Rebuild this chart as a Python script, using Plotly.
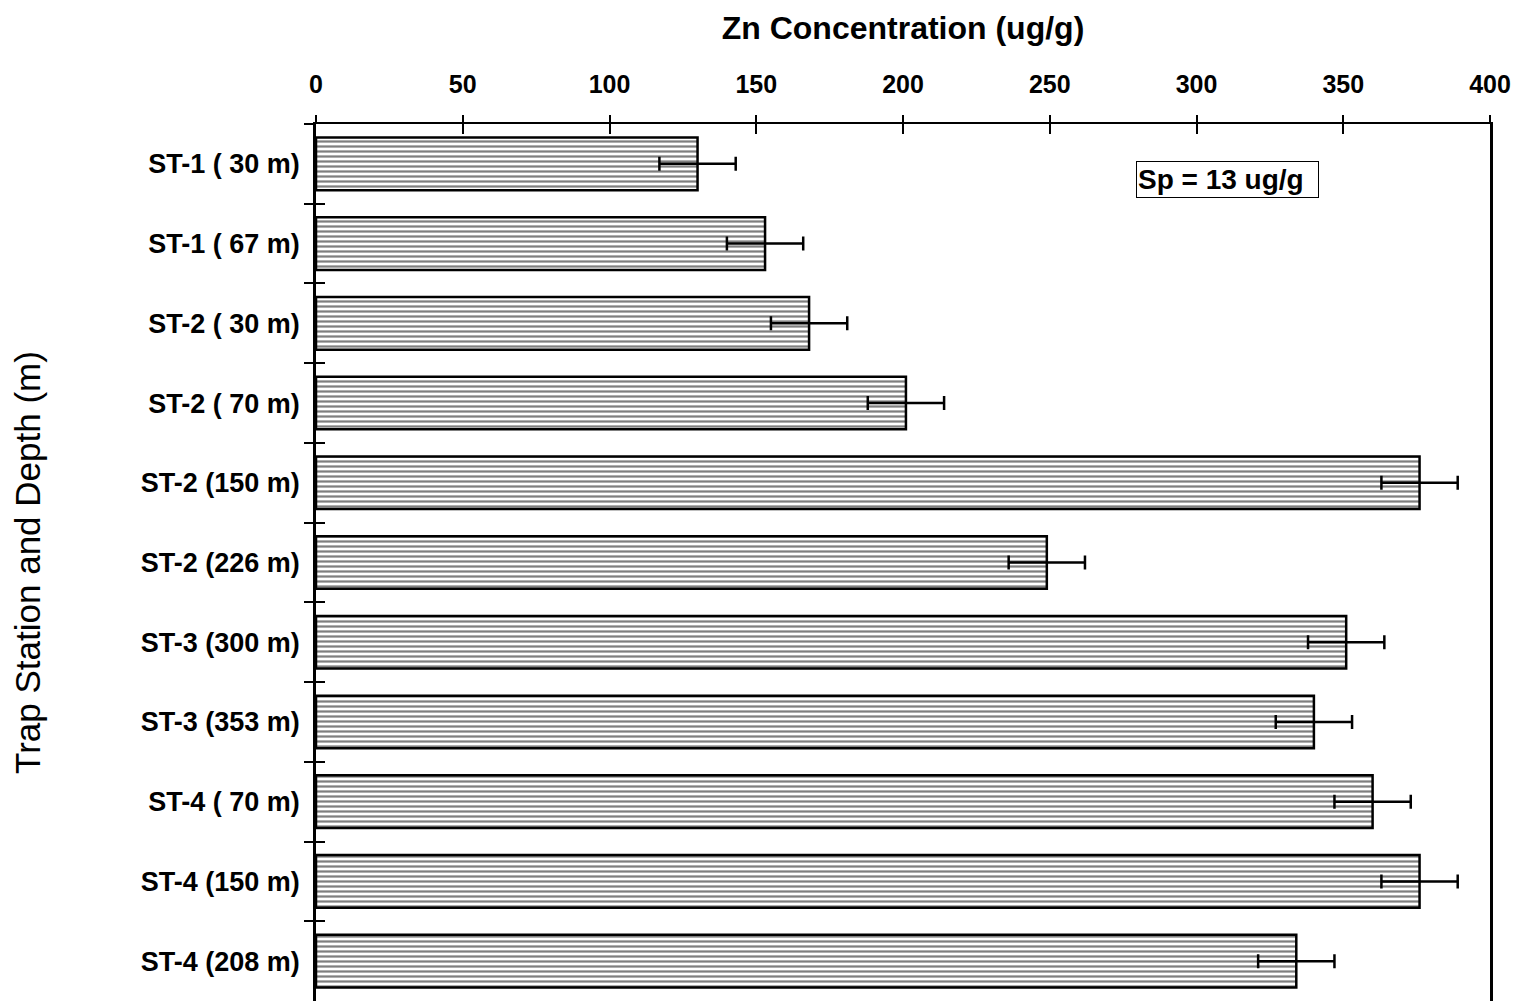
import plotly.graph_objects as go

# Sediment-trap samples: station and depth
stations = [
    "ST-1 ( 30 m)", "ST-1 ( 67 m)", "ST-2 ( 30 m)", "ST-2 ( 70 m)",
    "ST-2 (150 m)", "ST-2 (226 m)", "ST-3 (300 m)", "ST-3 (353 m)",
    "ST-4 ( 70 m)", "ST-4 (150 m)", "ST-4 (208 m)",
]
# Zn concentration (ug/g)
zn = [130, 153, 168, 201, 376, 249, 351, 340, 360, 376, 334]
# pooled standard deviation (ug/g)
sp = 13
errors = [sp] * len(zn)

x_ticks = [0, 50, 100, 150, 200, 250, 300, 350, 400]

FONT = "Liberation Sans, Arial, sans-serif"

fig = go.Figure()
fig.add_trace(go.Bar(
    y=stations,
    x=zn,
    orientation="h",
    width=0.66,
    marker=dict(
        color="white",
        line=dict(color="black", width=2.5),
        pattern=dict(shape="-", fgcolor="black", bgcolor="white",
                     size=5, solidity=0.45, fillmode="overlay"),
    ),
    error_x=dict(type="data", array=errors, visible=True,
                 color="black", thickness=2.5, width=7),
    showlegend=False,
))

# empty helper trace so the overlay axes carry the inner tick marks
fig.add_trace(go.Scatter(x=[None], y=[None], xaxis="x2", yaxis="y2",
                         showlegend=False, hoverinfo="skip"))

fig.update_layout(
    width=1516, height=1001, autosize=False,
    margin=dict(l=316, r=26, t=124, b=0),
    paper_bgcolor="white", plot_bgcolor="white",
    font=dict(family=FONT, color="black"),
    xaxis=dict(
        side="top", range=[0, 400], tickvals=x_ticks,
        ticks="outside", ticklen=7, tickwidth=1.5, tickcolor="black",
        showline=True, linecolor="black", linewidth=2,
        showgrid=False, zeroline=False,
        tickfont=dict(size=25, family=FONT, weight="bold"),
        ticklabelstandoff=12,
        title=dict(text="Zn Concentration (ug/g)", standoff=21,
                   font=dict(size=32, family=FONT, weight="bold")),
    ),
    xaxis2=dict(
        overlaying="x", side="top", range=[0, 400], tickvals=x_ticks,
        ticks="inside", ticklen=10, tickwidth=1.5, tickcolor="black",
        showticklabels=False, showline=False, showgrid=False, zeroline=False,
    ),
    yaxis=dict(
        type="category", categoryorder="array", categoryarray=stations,
        autorange="reversed", tickson="boundaries",
        ticks="outside", ticklen=9, tickwidth=1.5, tickcolor="black",
        showline=True, linecolor="black", linewidth=2.5, mirror=True,
        showgrid=False, zeroline=False,
        tickfont=dict(size=27, family=FONT, weight="bold"),
        ticklabelstandoff=8,
        title=dict(text="Trap Station and Depth (m)", standoff=90,
                   font=dict(size=35, family=FONT)),
    ),
    yaxis2=dict(
        overlaying="y", range=[10.5, -0.5],
        tickvals=[i + 0.5 for i in range(len(stations) - 1)],
        ticks="inside", ticklen=9, tickwidth=1.5, tickcolor="black",
        showticklabels=False, showline=False, showgrid=False, zeroline=False,
    ),
    annotations=[dict(
        text="Sp = 13 ug/g", xref="x", yref="paper",
        x=279.5, y=0.937, xanchor="left", yanchor="middle",
        showarrow=False, align="left", width=179, height=33,
        bordercolor="black", borderwidth=1, borderpad=1,
        font=dict(size=28, family=FONT, weight="bold"),
    )],
)

fig.write_html("out.html")
